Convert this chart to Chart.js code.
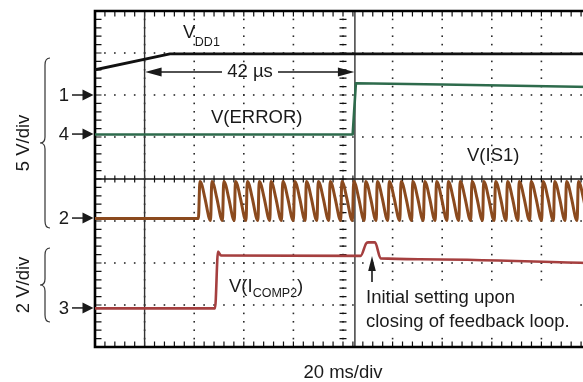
<!DOCTYPE html>
<html><head><meta charset="utf-8">
<script src="https://cdn.jsdelivr.net/npm/chart.js@4/dist/chart.umd.min.js"></script>
<style>
html,body{margin:0;padding:0;overflow:hidden;background:#fff;width:583px;height:382px}
#wrap{position:absolute;left:0;top:0;width:600px;height:382px}
</style>
</head><body><div id="wrap"><canvas id="c" width="600" height="382"></canvas></div>
<script>
// ---- data (time in ms, 20 ms/div; vertical in screen divisions 0..8) ----
const timeRange = [0, 200];
const divRange = [0, 8];
const timeStep = 20;
const vdd1 = [[0,6.6],[30.2,6.98],[200,6.98]];
const vError = [[0,5.06],[103.9,5.06],[105.2,6.28],[140,6.25],[200,6.19]];
const vIcomp2 = [[0,0.92],[48.4,0.92],[49.6,2.27],[50.8,2.18],[107.1,2.17],[109.4,2.47],[110.3,2.49],[112.9,2.49],[115.2,2.11],[131,2.09],[200,2.0]];
const vIs1 = [
[0,3.06],[41.7,3.06],
[42.3,3.94],[43.1,3.86],[44.3,3.55],[46.6,3.01],
[47.1,3.94],[47.9,3.86],[49.1,3.55],[51.4,3.01],
[51.9,3.94],[52.7,3.86],[53.9,3.55],[56.2,3.01],
[56.6,3.94],[57.4,3.86],[58.6,3.55],[60.9,3.01],
[61.4,3.94],[62.2,3.86],[63.4,3.55],[65.7,3.01],
[66.2,3.94],[67.0,3.86],[68.2,3.55],[70.5,3.01],
[70.9,3.94],[71.7,3.86],[72.9,3.55],[75.2,3.01],
[75.7,3.94],[76.5,3.86],[77.7,3.55],[80.0,3.01],
[80.5,3.94],[81.3,3.86],[82.5,3.55],[84.8,3.01],
[85.2,3.94],[86.0,3.86],[87.2,3.55],[89.5,3.01],
[90.0,3.94],[90.8,3.86],[92.0,3.55],[94.3,3.01],
[94.8,3.94],[95.6,3.86],[96.8,3.55],[99.1,3.01],
[99.5,3.94],[100.3,3.86],[101.5,3.55],[103.8,3.01],
[104.3,3.94],[105.1,3.86],[106.3,3.55],[108.6,3.01],
[109.1,3.94],[109.9,3.86],[111.1,3.55],[113.4,3.01],
[113.8,3.94],[114.6,3.86],[115.8,3.55],[118.1,3.01],
[118.6,3.94],[119.4,3.86],[120.6,3.55],[122.9,3.01],
[123.4,3.94],[124.2,3.86],[125.4,3.55],[127.7,3.01],
[128.1,3.94],[128.9,3.86],[130.1,3.55],[132.4,3.01],
[132.9,3.94],[133.7,3.86],[134.9,3.55],[137.2,3.01],
[137.7,3.94],[138.5,3.86],[139.7,3.55],[142.0,3.01],
[142.4,3.94],[143.2,3.86],[144.4,3.55],[146.7,3.01],
[147.2,3.94],[148.0,3.86],[149.2,3.55],[151.5,3.01],
[152.0,3.94],[152.8,3.86],[154.0,3.55],[156.3,3.01],
[156.7,3.94],[157.5,3.86],[158.7,3.55],[161.0,3.01],
[161.5,3.94],[162.3,3.86],[163.5,3.55],[165.8,3.01],
[166.3,3.94],[167.1,3.86],[168.3,3.55],[170.6,3.01],
[171.0,3.94],[171.8,3.86],[173.0,3.55],[175.3,3.01],
[175.8,3.94],[176.6,3.86],[177.8,3.55],[180.1,3.01],
[180.6,3.94],[181.4,3.86],[182.6,3.55],[184.9,3.01],
[185.3,3.94],[186.1,3.86],[187.3,3.55],[189.6,3.01],
[190.1,3.94],[190.9,3.86],[192.1,3.55],[194.4,3.01],
[194.9,3.94],[195.7,3.86],[196.9,3.55],[199.2,3.01],
[199.6,3.94]
];
const cursorTimes = [20, 104.8];
const channelLabels = ['1','4','2','3'];
const channelLevels = [6.0, 5.07, 3.07, 0.93];
const xAxisLabel = '20 ms/div';
const scaleLabels = ['5 V/div','2 V/div'];
const traceNames = ['V(ERROR)','V(IS1)'];
const noteLines = ['Initial setting upon','closing of feedback loop.'];
const spanLabel = '42 \u00b5s';

const FONT = '"Liberation Sans", Arial, Helvetica, sans-serif';
const MAIN = 18.5;
const toPts = a => a.map(([x,y]) => ({x, y}));

const scopePlugin = {
  id: 'scope',
  beforeDatasetsDraw(chart) {
    const ctx = chart.ctx, xs = chart.scales.x, ys = chart.scales.y;
    const L = xs.getPixelForValue(timeRange[0]), R = xs.getPixelForValue(timeRange[1]);
    const T = ys.getPixelForValue(divRange[1]), B = ys.getPixelForValue(divRange[0]);
    ctx.save();
    ctx.fillStyle = '#2a2a2a';
    for (let t = timeStep; t < timeRange[1]; t += timeStep) {
      const px = xs.getPixelForValue(t);
      for (let v = 0; v <= 8.001; v += 0.2) {
        const py = ys.getPixelForValue(v);
        ctx.fillRect(px - 0.8, py - 0.8, 1.6, 1.6);
      }
    }
    for (let d = 1; d < 8; d++) {
      if (d === 4) continue;
      const py = ys.getPixelForValue(d);
      for (let t = 0; t <= 200.001; t += 4) {
        const px = xs.getPixelForValue(t);
        ctx.fillRect(px - 0.8, py - 0.8, 1.6, 1.6);
      }
    }
    ctx.fillStyle = '#fff';
    ctx.fillRect(360, 284, 216, 50);
    ctx.strokeStyle = '#111';
    const cy = ys.getPixelForValue(4);
    ctx.lineWidth = 1.6;
    ctx.beginPath(); ctx.moveTo(L, cy); ctx.lineTo(R, cy); ctx.stroke();
    ctx.lineWidth = 1.2;
    ctx.beginPath();
    for (let t = 0; t <= 200.001; t += 4) {
      const px = xs.getPixelForValue(t);
      ctx.moveTo(px, cy - 3.5); ctx.lineTo(px, cy + 3.5);
    }
    const cx = xs.getPixelForValue(100);
    for (let v = 0; v <= 8.001; v += 0.2) {
      const py = ys.getPixelForValue(v);
      ctx.moveTo(cx - 3.5, py); ctx.lineTo(cx + 3.5, py);
    }
    for (let t = 0; t <= 200.001; t += 4) {
      const px = xs.getPixelForValue(t);
      ctx.moveTo(px, T); ctx.lineTo(px, T + 5.5);
      ctx.moveTo(px, B); ctx.lineTo(px, B - 5.5);
    }
    for (let v = 0; v <= 8.001; v += 0.2) {
      const py = ys.getPixelForValue(v);
      ctx.moveTo(L, py); ctx.lineTo(L + 6.5, py);
    }
    ctx.stroke();
    ctx.strokeStyle = '#333';
    ctx.lineWidth = 1.4;
    ctx.beginPath();
    cursorTimes.forEach(t => {
      const px = xs.getPixelForValue(t);
      ctx.moveTo(px, T); ctx.lineTo(px, B);
    });
    ctx.stroke();
    ctx.strokeStyle = '#000';
    ctx.lineWidth = 2.6;
    ctx.beginPath();
    ctx.moveTo(R + 5, T); ctx.lineTo(L, T); ctx.lineTo(L, B); ctx.lineTo(R + 5, B);
    ctx.stroke();
    ctx.restore();
  },
  afterDatasetsDraw(chart) {
    const ctx = chart.ctx, xs = chart.scales.x, ys = chart.scales.y;
    ctx.save();
    ctx.fillStyle = '#1a1a1a';
    ctx.strokeStyle = '#1a1a1a';
    const f = s => s + 'px ' + FONT;
    ctx.textBaseline = 'alphabetic';
    ctx.textAlign = 'left';
    ctx.font = f(MAIN);
    ctx.fillText('V', 183, 38);
    let w = ctx.measureText('V').width;
    ctx.font = f(12.5);
    ctx.fillText('DD1', 183 + w - 0.5, 46);
    const x1 = xs.getPixelForValue(cursorTimes[0]), x2 = xs.getPixelForValue(cursorTimes[1]);
    const ay = 72;
    ctx.font = f(MAIN);
    ctx.textAlign = 'center';
    ctx.textBaseline = 'middle';
    ctx.fillText(spanLabel, 250, ay);
    ctx.lineWidth = 1.5;
    ctx.beginPath();
    ctx.moveTo(x1 + 10, ay); ctx.lineTo(222, ay);
    ctx.moveTo(278, ay); ctx.lineTo(x2 - 10, ay);
    ctx.stroke();
    ctx.beginPath();
    ctx.moveTo(x1 + 0.5, ay); ctx.lineTo(x1 + 17, ay - 4.5); ctx.lineTo(x1 + 17, ay + 4.5); ctx.closePath();
    ctx.moveTo(x2 - 0.5, ay); ctx.lineTo(x2 - 17, ay - 4.5); ctx.lineTo(x2 - 17, ay + 4.5); ctx.closePath();
    ctx.fill();
    ctx.textAlign = 'left';
    ctx.textBaseline = 'alphabetic';
    ctx.font = f(MAIN);
    ctx.fillText(traceNames[0], 211, 123);
    ctx.fillText(traceNames[1], 467, 161);
    let x = 229;
    ctx.fillText('V(I', x, 292);
    x += ctx.measureText('V(I').width;
    ctx.font = f(12.5);
    ctx.fillText('COMP2', x, 297);
    x += ctx.measureText('COMP2').width;
    ctx.font = f(MAIN);
    ctx.fillText(')', x, 292);
    ctx.fillText(noteLines[0], 366, 303);
    ctx.fillText(noteLines[1], 366, 327);
    const nx = 372;
    ctx.lineWidth = 1.6;
    ctx.beginPath(); ctx.moveTo(nx, 282); ctx.lineTo(nx, 268); ctx.stroke();
    ctx.beginPath(); ctx.moveTo(nx, 256); ctx.lineTo(nx - 3.8, 271); ctx.lineTo(nx + 3.8, 271); ctx.closePath(); ctx.fill();
    ctx.textAlign = 'center';
    ctx.fillText(xAxisLabel, xs.getPixelForValue(100), 378);
    ctx.textBaseline = 'middle';
    ctx.textAlign = 'right';
    const L = xs.getPixelForValue(0);
    channelLabels.forEach((lab, i) => {
      const py = ys.getPixelForValue(channelLevels[i]);
      ctx.fillText(lab, 69, py + 1);
      ctx.lineWidth = 1.5;
      ctx.beginPath(); ctx.moveTo(72, py); ctx.lineTo(84, py); ctx.stroke();
      ctx.beginPath(); ctx.moveTo(L - 1.5, py); ctx.lineTo(L - 12.5, py - 5.5); ctx.lineTo(L - 12.5, py + 5.5); ctx.closePath(); ctx.fill();
    });
    ctx.strokeStyle = '#333';
    ctx.lineWidth = 1.2;
    const brace = (y0, yc, y1) => {
      const xt = 50, xm = 45, xc = 40;
      ctx.beginPath();
      ctx.moveTo(xt, y0);
      ctx.quadraticCurveTo(xm, y0, xm, y0 + 7);
      ctx.lineTo(xm, yc - 6);
      ctx.quadraticCurveTo(xm, yc, xc, yc);
      ctx.quadraticCurveTo(xm, yc, xm, yc + 6);
      ctx.lineTo(xm, y1 - 7);
      ctx.quadraticCurveTo(xm, y1, xt, y1);
      ctx.stroke();
    };
    brace(58, 143, 228);
    brace(248, 285, 322);
    ctx.textAlign = 'center';
    ctx.textBaseline = 'middle';
    [[143, scaleLabels[0]], [285, scaleLabels[1]]].forEach(([cy, s]) => {
      ctx.save();
      ctx.translate(24, cy);
      ctx.rotate(-Math.PI / 2);
      ctx.fillText(s, 0, 0);
      ctx.restore();
    });
    ctx.restore();
  }
};

new Chart(document.getElementById('c'), {
  type: 'line',
  data: {
    datasets: [
      { label: 'VDD1', data: toPts(vdd1), borderColor: '#111', borderWidth: 2.8 },
      { label: 'V(ERROR)', data: toPts(vError), borderColor: '#2e6b4c', borderWidth: 2.6 },
      { label: 'V(IS1)', data: toPts(vIs1), borderColor: '#8b4a1e', borderWidth: 3, cubicInterpolationMode: 'monotone' },
      { label: 'V(ICOMP2)', data: toPts(vIcomp2), borderColor: '#a53f3f', borderWidth: 2.6, cubicInterpolationMode: 'monotone' }
    ]
  },
  options: {
    responsive: false,
    animation: false,
    devicePixelRatio: 1,
    layout: { padding: { left: 95, top: 11, right: 9, bottom: 35 } },
    elements: { point: { radius: 0 }, line: { tension: 0, borderJoinStyle: 'round', borderCapStyle: 'round' } },
    plugins: { legend: { display: false }, tooltip: { enabled: false } },
    scales: {
      x: { type: 'linear', min: timeRange[0], max: timeRange[1], display: false },
      y: { type: 'linear', min: divRange[0], max: divRange[1], display: false }
    }
  },
  plugins: [scopePlugin]
});
</script>
</body></html>
